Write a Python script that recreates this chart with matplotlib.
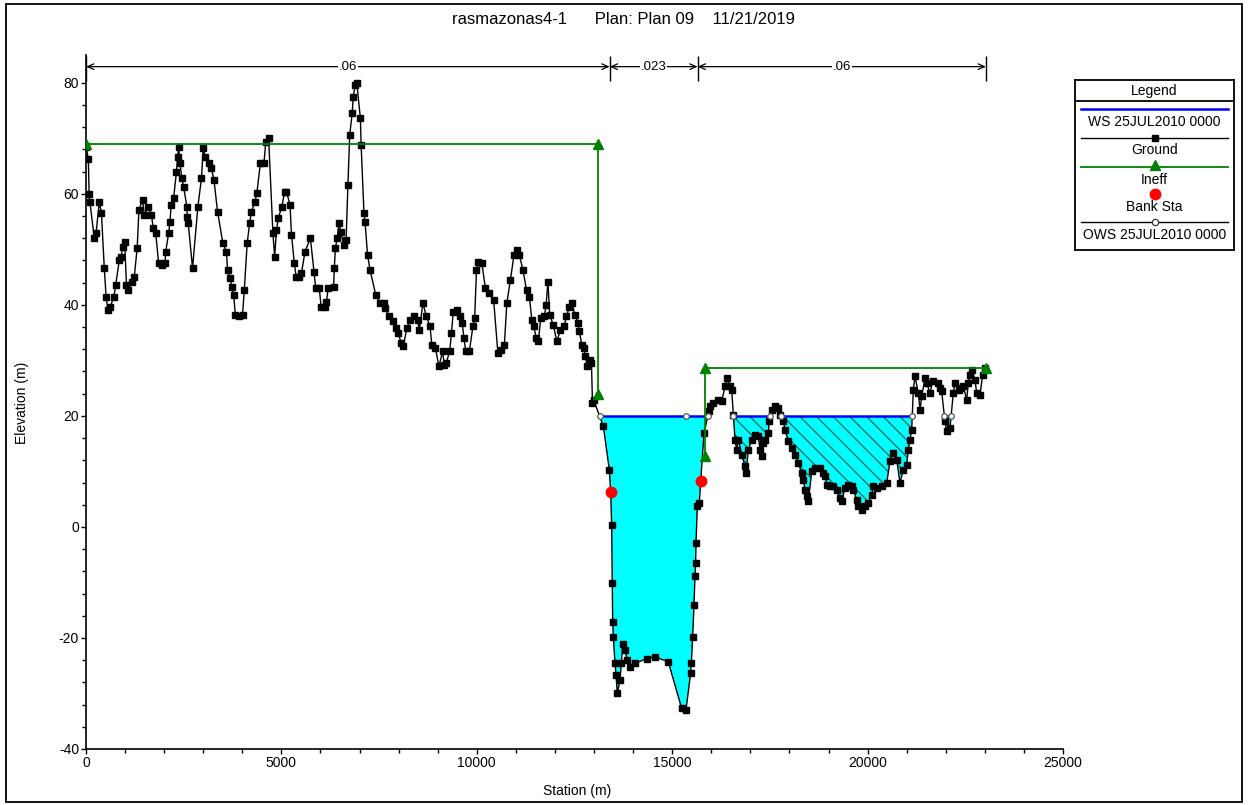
import numpy as np
import matplotlib
matplotlib.use("Agg")
import matplotlib.pyplot as plt
from matplotlib import font_manager as fm
from matplotlib.patches import Rectangle

# ---------------------------------------------------------------- data
title_text = "rasmazonas4-1      Plan: Plan 09    11/21/2019"
ws_label = "WS 25JUL2010 0000"
ows_label = "OWS 25JUL2010 0000"

# Ground profile: left overbank
left_sta = [0, 60, 80, 100, 213, 258, 340, 395, 468, 514,
            560, 624, 715, 761, 852, 898, 944, 990, 1035, 1081,
            1172, 1236, 1309, 1355, 1446, 1492, 1584, 1675, 1721, 1785,
            1858, 1949, 2022, 2040, 2114, 2150, 2178, 2242, 2315, 2345,
            2370, 2406, 2452, 2498, 2580, 2595, 2616, 2726, 2863, 2955,
            3000, 3046, 3137, 3210, 3274, 3366, 3503, 3594, 3622, 3685,
            3731, 3777, 3823, 3914, 4006, 4051, 4124, 4188, 4234, 4326,
            4371, 4463, 4554, 4600, 4673, 4783, 4828, 4874, 4920, 5011,
            5084, 5130, 5221, 5258, 5331, 5377, 5440, 5513, 5605, 5742,
            5833, 5879, 5970, 6016, 6107, 6153, 6199, 6336, 6354, 6382,
            6427, 6473, 6519, 6592, 6656, 6702, 6748, 6811, 6839, 6885,
            6930, 7021, 7040, 7113, 7140, 7204, 7268, 7414, 7524, 7615,
            7661, 7752, 7844, 7935, 7981, 8073, 8118, 8210, 8301, 8392,
            8484, 8530, 8621, 8712, 8804, 8849, 8941, 9032, 9124, 9169,
            9215, 9306, 9352, 9398, 9489, 9580, 9626, 9672, 9718, 9809,
            9900, 9946, 9992, 10037, 10129, 10220, 10311, 10430, 10540, 10632,
            10705, 10769, 10860, 10952, 11016, 11089, 11180, 11272, 11345, 11409,
            11454, 11527, 11573, 11637, 11728, 11774, 11820, 11865, 11957, 12048,
            12140, 12231, 12295, 12368, 12441, 12505, 12596, 12624, 12688, 12733,
            12779, 12825, 12890, 12934, 12960, 12990, 13238, 13391]
left_elev = [68.5, 66.3, 60.0, 58.5, 52.0, 52.9, 58.6, 56.5, 46.6, 41.5,
             39.1, 39.7, 41.5, 43.6, 48.1, 48.7, 50.5, 51.4, 43.6, 42.7,
             44.2, 45.1, 50.2, 57.1, 58.9, 56.2, 57.7, 56.2, 53.8, 52.9,
             47.5, 47.2, 47.5, 49.6, 52.9, 55.0, 58.0, 59.2, 64.0, 66.7,
             68.5, 65.5, 62.8, 61.3, 57.7, 55.9, 54.7, 46.6, 57.7, 62.8,
             68.2, 66.7, 65.5, 64.6, 62.5, 56.8, 51.1, 49.6, 46.3, 44.8,
             43.3, 41.8, 38.2, 37.9, 38.2, 42.7, 51.1, 54.7, 56.8, 58.6,
             60.1, 65.5, 65.5, 69.4, 70.0, 52.9, 48.7, 53.5, 55.6, 57.7,
             60.4, 60.4, 58.0, 52.6, 47.5, 45.1, 45.1, 45.7, 49.6, 52.0,
             46.0, 43.0, 43.0, 39.7, 39.7, 40.6, 43.0, 43.3, 46.6, 50.2,
             52.0, 54.7, 53.2, 50.8, 51.7, 61.6, 70.6, 74.5, 77.5, 79.6,
             79.9, 73.6, 68.8, 56.5, 55.0, 49.0, 46.3, 41.8, 40.3, 40.3,
             39.4, 37.9, 37.0, 35.8, 34.9, 33.1, 32.5, 35.8, 37.3, 37.9,
             37.3, 35.5, 40.3, 37.9, 36.1, 32.8, 32.2, 28.9, 31.6, 29.2,
             29.5, 31.6, 34.9, 38.8, 39.1, 37.9, 36.7, 34.0, 31.6, 31.6,
             36.1, 37.6, 46.3, 47.8, 47.5, 43.0, 42.1, 40.9, 31.3, 31.9,
             32.8, 40.3, 44.5, 49.0, 49.9, 49.0, 46.3, 42.7, 41.5, 37.3,
             36.1, 34.0, 33.4, 37.6, 37.9, 40.0, 44.2, 38.2, 36.4, 33.4,
             35.5, 36.1, 37.9, 39.7, 40.3, 38.2, 36.7, 35.2, 32.8, 32.2,
             30.7, 28.9, 30.1, 29.6, 22.3, 22.9, 18.1, 10.3]

# Ground profile: main channel
chan_sta = [13426, 13451, 13468, 13477, 13494, 13536, 13562, 13596, 13664, 13700,
            13733, 13792, 13850, 13920, 14048, 14347, 14560, 14900, 15243, 15353,
            15470, 15490, 15523, 15558, 15583, 15600, 15609, 15643, 15694, 15729]
chan_elev = [6.2, 0.4, -10.1, -17.1, -19.8, -24.6, -26.7, -30.0, -27.6, -24.6,
             -21.0, -22.2, -24.0, -25.2, -24.6, -23.7, -23.4, -24.3, -32.7, -33.0,
             -26.4, -24.6, -19.8, -14.1, -8.9, -6.5, -2.9, 3.7, 4.3, 8.2]

# Ground profile: right overbank
right_sta = [15814, 15940, 15967, 16052, 16180, 16266, 16351, 16410, 16479, 16522,
             16564, 16607, 16650, 16692, 16778, 16863, 16890, 16949, 17034, 17119,
             17204, 17247, 17289, 17315, 17375, 17460, 17485, 17546, 17631, 17716,
             17759, 17844, 17887, 17971, 18057, 18142, 18227, 18314, 18355, 18398,
             18442, 18483, 18570, 18654, 18782, 18867, 18910, 18953, 19038, 19122,
             19209, 19294, 19337, 19421, 19506, 19593, 19634, 19721, 19762, 19849,
             19933, 20018, 20105, 20146, 20233, 20361, 20489, 20573, 20657, 20745,
             20829, 20913, 21000, 21041, 21085, 21128, 21170, 21213, 21298, 21341,
             21384, 21469, 21512, 21597, 21665, 21809, 21852, 21895, 21980, 22024,
             22108, 22193, 22236, 22347, 22382, 22450, 22535, 22577, 22620, 22664,
             22748, 22791, 22876, 22945, 23000]
right_elev = [16.9, 20.8, 21.7, 22.3, 22.9, 22.6, 25.3, 26.8, 25.3, 24.7,
              20.2, 15.7, 13.9, 15.7, 13.0, 10.9, 9.7, 13.9, 15.7, 16.6,
              16.3, 13.9, 12.7, 15.1, 15.7, 16.9, 19.0, 21.1, 21.7, 21.4,
              20.2, 19.0, 17.5, 15.4, 14.2, 13.0, 11.5, 9.7, 8.5, 6.7,
              5.5, 4.6, 10.0, 10.6, 10.6, 9.7, 9.1, 7.6, 7.3, 7.3,
              6.7, 5.2, 4.6, 7.0, 7.6, 7.3, 6.7, 4.9, 3.7, 3.1,
              3.7, 4.3, 5.8, 7.3, 7.0, 7.3, 7.9, 11.8, 13.3, 12.1,
              7.9, 10.3, 11.2, 13.9, 15.7, 17.5, 24.7, 27.1, 24.1, 21.1,
              23.5, 26.8, 25.9, 24.1, 26.2, 25.9, 25.0, 24.4, 19.0, 17.2,
              17.8, 24.1, 25.9, 24.7, 25.0, 25.3, 22.9, 25.9, 27.4, 28.3,
              26.5, 24.1, 23.8, 27.4, 28.7]

ws_elev = 19.9                     # computed water surface
ows_mid_sta = [15350]              # observed WS marker inside the channel

bank_sta = [13426, 15729]
bank_elev = [6.2, 8.2]

ineff_left_sta = [0, 13100, 13100]
ineff_left_elev = [69.0, 69.0, 24.0]
ineff_right_sta = [15840, 15840, 23020]
ineff_right_elev = [12.7, 28.6, 28.6]

mann_sta = [0, 13400, 15650, 23030]
mann_n = [".06", ".023", ".06"]

# ---------------------------------------------------------------- fonts
names = {f.name for f in fm.fontManager.ttflist}
if "Liberation Sans Narrow" in names:
    FAM = ["Liberation Sans Narrow", "Liberation Sans", "DejaVu Sans"]
    k = 1.15
else:
    FAM = ["Liberation Sans", "DejaVu Sans"]
    k = 1.0
plt.rcParams["font.family"] = FAM
plt.rcParams["axes.unicode_minus"] = False
plt.rcParams["hatch.linewidth"] = 1.0

TICK_FS = 10.0 * k
NTXT_FS = 9.5 * k
LAB_FS = 10.0 * k
LEG_FS = 10.0 * k
TITLE_FS = 12.0 * k

# ---------------------------------------------------------------- figure
W, H = 1249, 805
fig = plt.figure(figsize=(W / 100, H / 100), dpi=100)
fig.patch.set_facecolor("white")

def fx(px):
    return px / W

def fy(py):
    return 1 - py / H

# outer frame
fig.add_artist(Rectangle((fx(6), fy(802)), fx(1242) - fx(6), fy(4) - fy(802),
                         transform=fig.transFigure, fill=False,
                         edgecolor="black", linewidth=1.3))

ax = fig.add_axes([fx(86), fy(749), fx(1063) - fx(86), fy(55) - fy(749)])
ax.set_xlim(0, 25000)
ax.set_ylim(-40, 85)

sta = np.array(left_sta + chan_sta + right_sta, dtype=float)
elev = np.array(left_elev + chan_elev + right_elev, dtype=float)

# wet intervals where the ground lies below the water surface
cross = []
for i in range(len(sta) - 1):
    d0, d1 = elev[i] - ws_elev, elev[i + 1] - ws_elev
    if d0 * d1 < 0:
        cross.append(sta[i] + (sta[i + 1] - sta[i]) * d0 / (d0 - d1))
intervals = list(zip(cross[0::2], cross[1::2]))

for a, b in intervals:
    inner = (sta > a) & (sta < b)
    xs = np.concatenate([[a], sta[inner], [b]])
    ys = np.concatenate([[ws_elev], elev[inner], [ws_elev]])
    mid = 0.5 * (a + b)
    ineffective = mid > ineff_right_sta[0] or mid < ineff_left_sta[1]
    if ineffective:
        ax.fill_between(xs, ys, ws_elev, facecolor="#00FFFF",
                        edgecolor="#1d6f68", hatch="\\\\", linewidth=0,
                        zorder=1)
    else:
        ax.fill_between(xs, ys, ws_elev, facecolor="#00FFFF",
                        edgecolor="none", linewidth=0, zorder=1)
    ax.plot([a, b], [ws_elev, ws_elev], color="#0000FF", lw=1.8, zorder=2,
            solid_capstyle="butt")

# ground
ax.plot(sta, elev, color="black", lw=1.0, marker="s", ms=4.8,
        mfc="black", mec="black", zorder=3)

# ineffective flow areas
for xs, ys in [(ineff_left_sta, ineff_left_elev),
               (ineff_right_sta, ineff_right_elev)]:
    ax.plot(xs, ys, color="#008000", lw=1.3, marker="^", ms=6.5,
            mfc="#008000", mec="#008000", zorder=4)

# bank stations
ax.plot(bank_sta, bank_elev, ls="none", marker="o", ms=7.5,
        mfc="#FF0000", mec="#FF0000", zorder=5)

# observed water surface markers
ows_sta = sorted(list(cross) + ows_mid_sta)
ax.plot(ows_sta, [ws_elev] * len(ows_sta), ls="none", marker="o", ms=4,
        mfc="white", mec="#555555", mew=0.9, zorder=5)

# Manning's n bands along the top
y_n = 82.9
ax.vlines(mann_sta, 80.3, 84.8, color="black", lw=1.0, zorder=6)
for (a, b), n in zip(zip(mann_sta[:-1], mann_sta[1:]), mann_n):
    ax.annotate("", xy=(a, y_n), xytext=(b, y_n),
                arrowprops=dict(arrowstyle="<->,head_length=0.45,head_width=0.2",
                                color="black", lw=0.9, shrinkA=0, shrinkB=0),
                zorder=6)
    ax.text(0.5 * (a + b), y_n, n, ha="center", va="center",
            fontsize=NTXT_FS, zorder=7,
            bbox=dict(facecolor="white", edgecolor="none", pad=0.6))

# axes styling
for s in ["top", "right"]:
    ax.spines[s].set_visible(False)
for s in ["left", "bottom"]:
    ax.spines[s].set_linewidth(1.2)
ax.set_xticks(np.arange(0, 25001, 5000))
ax.set_xticks(np.arange(0, 25001, 1000), minor=True)
ax.set_yticks(np.arange(-40, 81, 20))
ax.set_yticks(np.arange(-40, 81, 4), minor=True)
ax.tick_params(which="both", direction="out", length=3.5, width=1.0,
               labelsize=TICK_FS, pad=1.5)
ax.tick_params(which="minor", length=3.0)

fig.text(fx(577), fy(791), "Station (m)", ha="center", va="center",
         fontsize=LAB_FS)
fig.text(fx(22), fy(403), "Elevation (m)", ha="center", va="center",
         rotation=90, fontsize=LAB_FS)
fig.text(fx(623), fy(20), title_text, ha="center", va="center",
         fontsize=TITLE_FS)

# legend panel
lx0, lx1, ly0, ly1 = 1075, 1234, 80, 250
lax = fig.add_axes([fx(lx0), fy(ly1), fx(lx1) - fx(lx0), fy(ly0) - fy(ly1)])
lax.set_xlim(lx0, lx1)
lax.set_ylim(ly1, ly0)
lax.set_xticks([])
lax.set_yticks([])
for s in lax.spines.values():
    s.set_linewidth(1.3)
lax.axhline(101, color="black", lw=1.3)
cx = 0.5 * (lx0 + lx1)
lax.text(cx, 90.5, "Legend", ha="center", va="center", fontsize=LEG_FS)
lax.plot([1081, 1228], [109, 109], color="#0000FF", lw=1.8)
lax.text(cx, 122, ws_label, ha="center", va="center", fontsize=LEG_FS)
lax.plot([1081, 1228], [138.5, 138.5], color="black", lw=1.0)
lax.plot([cx], [138.5], marker="s", ms=4.8, color="black")
lax.text(cx, 149.5, "Ground", ha="center", va="center", fontsize=LEG_FS)
lax.plot([1081, 1228], [167, 167], color="#008000", lw=1.3)
lax.plot([cx], [165], marker="^", ms=6.5, color="#008000")
lax.text(cx, 179.5, "Ineff", ha="center", va="center", fontsize=LEG_FS)
lax.plot([cx], [194], marker="o", ms=7.5, color="#FF0000")
lax.text(cx, 207, "Bank Sta", ha="center", va="center", fontsize=LEG_FS)
lax.plot([1081, 1228], [222.5, 222.5], color="black", lw=1.0)
lax.plot([cx], [222.5], marker="o", ms=4.5, mfc="white", mec="#333333",
         mew=0.9)
lax.text(cx, 235, ows_label, ha="center", va="center", fontsize=LEG_FS)

fig.savefig("out.png", dpi=100)
